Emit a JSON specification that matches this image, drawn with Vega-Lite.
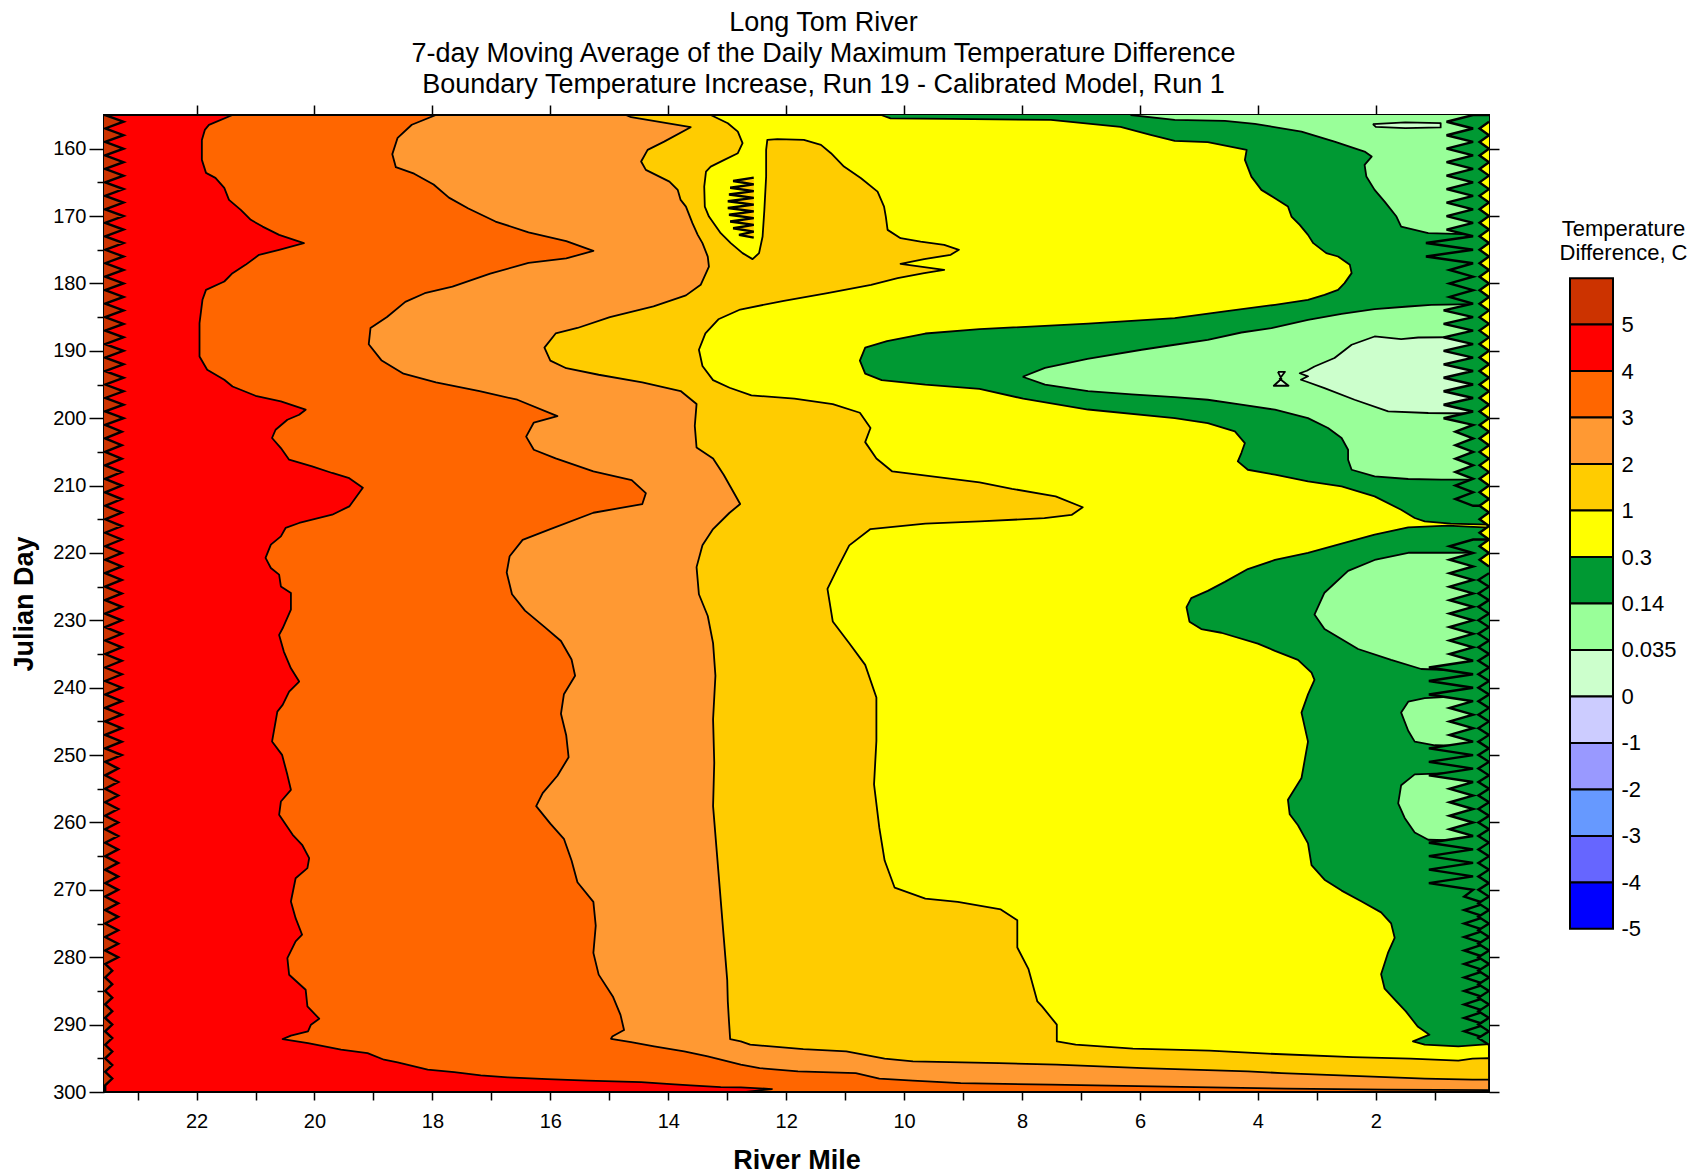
{
"$schema":"https://vega.github.io/schema/vega-lite/v6.json",
"background":"white",
"padding":{"left":9,"top":8,"right":10,"bottom":2},
"config":{"font":"Liberation Sans","axis":{"grid":false,"domain":false,"tickColor":"black","labelColor":"black","titleColor":"black","tickWidth":1.5,"labelFont":"Liberation Sans","titleFont":"Liberation Sans","labelOverlap":false}},
"datasets":{
"shapes":[{"s":"a","b":"1-2"},{"s":"b","b":"2-3"},{"s":"c","b":"3-4"},{"s":"d","b":"4-5"},{"s":"e","b":">5"},{"s":"f","b":"0.14-0.3"},{"s":"g","b":"0.14-0.3"},{"s":"h","b":"0.035-0.14"},{"s":"i","b":"0.035-0.14"},{"s":"j","b":"0.035-0.14"},{"s":"k","b":"0.035-0.14"},{"s":"l","b":"0.035-0.14"},{"s":"m","b":"0-0.035"},{"s":"m0","b":"0-0.035"},{"s":"n","b":"0-0.035"},{"s":"o1","b":"0.14-0.3"},{"s":"o2","b":"0.14-0.3"},{"s":"p","b":"0.3-1"},{"s":"p2","b":"0.14-0.3"},{"s":"q","b":"1-2"}],
"legend":[{"i":0,"j":1,"b":">5"},{"i":1,"j":2,"b":"4-5"},{"i":2,"j":3,"b":"3-4"},{"i":3,"j":4,"b":"2-3"},{"i":4,"j":5,"b":"1-2"},{"i":5,"j":6,"b":"0.3-1"},{"i":6,"j":7,"b":"0.14-0.3"},{"i":7,"j":8,"b":"0.035-0.14"},{"i":8,"j":9,"b":"0-0.035"},{"i":9,"j":10,"b":"-1-0"},{"i":10,"j":11,"b":"-2--1"},{"i":11,"j":12,"b":"-3--2"},{"i":12,"j":13,"b":"-4--3"},{"i":13,"j":14,"b":"-5--4"}],
"pts":[
{"s":"a","mi":23.57,"dy":155},{"s":"a","mi":13.28,"dy":155},{"s":"a","mi":12.99,"dy":156.22},{"s":"a","mi":12.82,"dy":157.46},{"s":"a","mi":12.74,"dy":159.18},{"s":"a","mi":12.82,"dy":160.67},{"s":"a","mi":13.05,"dy":161.66},{"s":"a","mi":13.28,"dy":162.66},{"s":"a","mi":13.36,"dy":163.4},{"s":"a","mi":13.39,"dy":165.62},{"s":"a","mi":13.38,"dy":168.59},{"s":"a","mi":13.31,"dy":170.07},{"s":"a","mi":13.11,"dy":172.54},{"s":"a","mi":12.94,"dy":174.02},{"s":"a","mi":12.74,"dy":175.5},{"s":"a","mi":12.57,"dy":176.39},{"s":"a","mi":12.46,"dy":175.5},{"s":"a","mi":12.4,"dy":173.04},{"s":"a","mi":12.37,"dy":169.08},{"s":"a","mi":12.34,"dy":164.14},{"s":"a","mi":12.34,"dy":160.18},{"s":"a","mi":12.32,"dy":158.7},{"s":"a","mi":12.15,"dy":158.59},{"s":"a","mi":11.7,"dy":158.7},{"s":"a","mi":11.41,"dy":159.44},{"s":"a","mi":11.24,"dy":160.67},{"s":"a","mi":11.02,"dy":162.66},{"s":"a","mi":10.73,"dy":164.38},{"s":"a","mi":10.45,"dy":166.37},{"s":"a","mi":10.34,"dy":168.59},{"s":"a","mi":10.31,"dy":170.07},{"s":"a","mi":10.28,"dy":172.05},{"s":"a","mi":10.06,"dy":173.28},{"s":"a","mi":9.72,"dy":173.78},{"s":"a","mi":9.32,"dy":174.27},{"s":"a","mi":9.07,"dy":175.01},{"s":"a","mi":9.21,"dy":175.75},{"s":"a","mi":9.66,"dy":176.39},{"s":"a","mi":10.06,"dy":177.09},{"s":"a","mi":9.72,"dy":177.49},{"s":"a","mi":9.32,"dy":177.98},{"s":"a","mi":9.66,"dy":178.47},{"s":"a","mi":10.11,"dy":179.21},{"s":"a","mi":10.56,"dy":180.2},{"s":"a","mi":11.3,"dy":181.45},{"s":"a","mi":12.04,"dy":182.58},{"s":"a","mi":12.78,"dy":183.87},{"s":"a","mi":13.15,"dy":185.32},{"s":"a","mi":13.37,"dy":187.42},{"s":"a","mi":13.48,"dy":189.84},{"s":"a","mi":13.42,"dy":192.26},{"s":"a","mi":13.24,"dy":194.35},{"s":"a","mi":12.96,"dy":195.48},{"s":"a","mi":12.59,"dy":196.61},{"s":"a","mi":11.86,"dy":197.1},{"s":"a","mi":11.21,"dy":197.9},{"s":"a","mi":10.75,"dy":199.19},{"s":"a","mi":10.57,"dy":201.45},{"s":"a","mi":10.66,"dy":203.55},{"s":"a","mi":10.47,"dy":205.97},{"s":"a","mi":10.2,"dy":207.9},{"s":"a","mi":9.46,"dy":208.71},{"s":"a","mi":8.72,"dy":209.51},{"s":"a","mi":8.17,"dy":210.48},{"s":"a","mi":7.43,"dy":211.61},{"s":"a","mi":6.97,"dy":213.22},{"s":"a","mi":7.16,"dy":214.35},{"s":"a","mi":7.62,"dy":214.84},{"s":"a","mi":8.72,"dy":215.32},{"s":"a","mi":9.64,"dy":215.65},{"s":"a","mi":10.57,"dy":216.45},{"s":"a","mi":10.93,"dy":218.87},{"s":"a","mi":11.12,"dy":222.1},{"s":"a","mi":11.3,"dy":225.32},{"s":"a","mi":11.21,"dy":230.16},{"s":"a","mi":10.93,"dy":233.39},{"s":"a","mi":10.66,"dy":236.61},{"s":"a","mi":10.47,"dy":241.45},{"s":"a","mi":10.47,"dy":247.9},{"s":"a","mi":10.51,"dy":254.35},{"s":"a","mi":10.42,"dy":260.81},{"s":"a","mi":10.33,"dy":265.65},{"s":"a","mi":10.16,"dy":269.68},{"s":"a","mi":9.64,"dy":271.29},{"s":"a","mi":9.09,"dy":271.78},{"s":"a","mi":8.36,"dy":272.9},{"s":"a","mi":8.08,"dy":274.52},{"s":"a","mi":8.08,"dy":278.55},{"s":"a","mi":7.89,"dy":281.77},{"s":"a","mi":7.74,"dy":286.56},{"s":"a","mi":7.66,"dy":287.3},{"s":"a","mi":7.41,"dy":290.01},{"s":"a","mi":7.41,"dy":292.49},{"s":"a","mi":7.09,"dy":292.98},{"s":"a","mi":6.12,"dy":293.57},{"s":"a","mi":4.82,"dy":293.87},{"s":"a","mi":3.84,"dy":294.31},{"s":"a","mi":2.39,"dy":294.82},{"s":"a","mi":1.41,"dy":295.06},{"s":"a","mi":0.6,"dy":295.35},{"s":"a","mi":0.36,"dy":295.06},{"s":"a","mi":0.08,"dy":294.97},{"s":"a","mi":0.08,"dy":300},{"s":"a","mi":23.57,"dy":300},
{"s":"b","mi":23.57,"dy":155},{"s":"b","mi":14.72,"dy":155},{"s":"b","mi":14.63,"dy":155.33},{"s":"b","mi":13.62,"dy":156.81},{"s":"b","mi":14.07,"dy":158.95},{"s":"b","mi":14.35,"dy":160.18},{"s":"b","mi":14.46,"dy":161.91},{"s":"b","mi":14.38,"dy":163.15},{"s":"b","mi":13.98,"dy":164.88},{"s":"b","mi":13.84,"dy":166.11},{"s":"b","mi":13.79,"dy":167.6},{"s":"b","mi":13.7,"dy":168.59},{"s":"b","mi":13.59,"dy":171.05},{"s":"b","mi":13.5,"dy":172.79},{"s":"b","mi":13.42,"dy":174.02},{"s":"b","mi":13.33,"dy":176.01},{"s":"b","mi":13.31,"dy":177.49},{"s":"b","mi":13.45,"dy":180.2},{"s":"b","mi":13.7,"dy":181.77},{"s":"b","mi":14.25,"dy":183.39},{"s":"b","mi":14.99,"dy":185},{"s":"b","mi":15.54,"dy":186.61},{"s":"b","mi":15.91,"dy":187.42},{"s":"b","mi":16.1,"dy":189.52},{"s":"b","mi":16,"dy":191.45},{"s":"b","mi":15.73,"dy":192.58},{"s":"b","mi":15.18,"dy":193.55},{"s":"b","mi":14.44,"dy":194.68},{"s":"b","mi":13.79,"dy":195.97},{"s":"b","mi":13.52,"dy":197.9},{"s":"b","mi":13.55,"dy":201.13},{"s":"b","mi":13.52,"dy":204.35},{"s":"b","mi":13.24,"dy":205.97},{"s":"b","mi":13.06,"dy":208.39},{"s":"b","mi":12.78,"dy":212.74},{"s":"b","mi":12.96,"dy":214.03},{"s":"b","mi":13.24,"dy":216.45},{"s":"b","mi":13.42,"dy":218.87},{"s":"b","mi":13.52,"dy":222.1},{"s":"b","mi":13.48,"dy":226.13},{"s":"b","mi":13.33,"dy":229.35},{"s":"b","mi":13.24,"dy":233.39},{"s":"b","mi":13.2,"dy":238.23},{"s":"b","mi":13.24,"dy":244.68},{"s":"b","mi":13.22,"dy":251.13},{"s":"b","mi":13.24,"dy":257.58},{"s":"b","mi":13.15,"dy":267.26},{"s":"b","mi":13.06,"dy":276.94},{"s":"b","mi":13,"dy":283.39},{"s":"b","mi":12.99,"dy":286.56},{"s":"b","mi":12.97,"dy":289.52},{"s":"b","mi":12.95,"dy":292.15},{"s":"b","mi":12.77,"dy":292.49},{"s":"b","mi":12.61,"dy":292.98},{"s":"b","mi":11.71,"dy":293.63},{"s":"b","mi":10.98,"dy":293.97},{"s":"b","mi":10.33,"dy":295.06},{"s":"b","mi":9.85,"dy":295.46},{"s":"b","mi":8.39,"dy":295.71},{"s":"b","mi":7.41,"dy":295.94},{"s":"b","mi":5.95,"dy":296.45},{"s":"b","mi":4.17,"dy":296.94},{"s":"b","mi":3.6,"dy":297.19},{"s":"b","mi":1.17,"dy":298.02},{"s":"b","mi":0.36,"dy":298.17},{"s":"b","mi":0.08,"dy":298.17},{"s":"b","mi":0.08,"dy":300},{"s":"b","mi":23.57,"dy":300},
{"s":"c","mi":23.57,"dy":155},{"s":"c","mi":17.94,"dy":155},{"s":"c","mi":18.35,"dy":156.45},{"s":"c","mi":18.59,"dy":158.39},{"s":"c","mi":18.68,"dy":160.81},{"s":"c","mi":18.62,"dy":162.74},{"s":"c","mi":18.31,"dy":163.71},{"s":"c","mi":17.98,"dy":165.32},{"s":"c","mi":17.72,"dy":167.26},{"s":"c","mi":17.39,"dy":168.87},{"s":"c","mi":16.93,"dy":170.81},{"s":"c","mi":16.37,"dy":172.42},{"s":"c","mi":15.73,"dy":173.71},{"s":"c","mi":15.27,"dy":175.16},{"s":"c","mi":15.73,"dy":176.29},{"s":"c","mi":16.37,"dy":176.94},{"s":"c","mi":17.02,"dy":178.55},{"s":"c","mi":17.66,"dy":180.48},{"s":"c","mi":18.13,"dy":181.45},{"s":"c","mi":18.46,"dy":182.74},{"s":"c","mi":18.77,"dy":184.98},{"s":"c","mi":19.05,"dy":186.61},{"s":"c","mi":19.08,"dy":189.03},{"s":"c","mi":18.86,"dy":191.45},{"s":"c","mi":18.49,"dy":193.39},{"s":"c","mi":17.94,"dy":194.68},{"s":"c","mi":17.2,"dy":195.97},{"s":"c","mi":16.56,"dy":197.26},{"s":"c","mi":15.88,"dy":199.68},{"s":"c","mi":16.28,"dy":200.64},{"s":"c","mi":16.41,"dy":202.74},{"s":"c","mi":16.28,"dy":204.68},{"s":"c","mi":15.91,"dy":205.97},{"s":"c","mi":15.27,"dy":207.9},{"s":"c","mi":14.62,"dy":209.19},{"s":"c","mi":14.38,"dy":211.13},{"s":"c","mi":14.44,"dy":212.74},{"s":"c","mi":15.27,"dy":214.03},{"s":"c","mi":16,"dy":216.45},{"s":"c","mi":16.47,"dy":218.06},{"s":"c","mi":16.69,"dy":220.48},{"s":"c","mi":16.74,"dy":222.9},{"s":"c","mi":16.65,"dy":226.13},{"s":"c","mi":16.43,"dy":228.55},{"s":"c","mi":16.1,"dy":230.97},{"s":"c","mi":15.82,"dy":233.06},{"s":"c","mi":15.64,"dy":235.81},{"s":"c","mi":15.58,"dy":238.23},{"s":"c","mi":15.77,"dy":240.97},{"s":"c","mi":15.82,"dy":243.87},{"s":"c","mi":15.73,"dy":247.1},{"s":"c","mi":15.69,"dy":250.32},{"s":"c","mi":15.88,"dy":253.06},{"s":"c","mi":16.13,"dy":255.65},{"s":"c","mi":16.24,"dy":257.58},{"s":"c","mi":16,"dy":260.16},{"s":"c","mi":15.77,"dy":262.42},{"s":"c","mi":15.64,"dy":265.65},{"s":"c","mi":15.54,"dy":268.87},{"s":"c","mi":15.27,"dy":271.78},{"s":"c","mi":15.23,"dy":275.32},{"s":"c","mi":15.27,"dy":279.35},{"s":"c","mi":15.18,"dy":282.58},{"s":"c","mi":14.94,"dy":285.81},{"s":"c","mi":14.81,"dy":288.55},{"s":"c","mi":14.75,"dy":290.81},{"s":"c","mi":14.95,"dy":291.77},{"s":"c","mi":14.97,"dy":292.1},{"s":"c","mi":14.63,"dy":292.59},{"s":"c","mi":14.24,"dy":293.23},{"s":"c","mi":13.73,"dy":293.97},{"s":"c","mi":13.33,"dy":294.71},{"s":"c","mi":12.99,"dy":295.46},{"s":"c","mi":12.77,"dy":295.94},{"s":"c","mi":12.45,"dy":296.45},{"s":"c","mi":11.8,"dy":296.94},{"s":"c","mi":10.82,"dy":297.19},{"s":"c","mi":10.42,"dy":298.02},{"s":"c","mi":9.85,"dy":298.32},{"s":"c","mi":9.04,"dy":298.68},{"s":"c","mi":7.5,"dy":298.91},{"s":"c","mi":5.06,"dy":299.27},{"s":"c","mi":3.52,"dy":299.5},{"s":"c","mi":1.82,"dy":299.65},{"s":"c","mi":0.08,"dy":299.73},{"s":"c","mi":0.08,"dy":300},{"s":"c","mi":23.57,"dy":300},
{"s":"d","mi":23.57,"dy":155},{"s":"d","mi":21.39,"dy":155},{"s":"d","mi":21.79,"dy":156.47},{"s":"d","mi":21.86,"dy":157.21},{"s":"d","mi":21.91,"dy":158.7},{"s":"d","mi":21.91,"dy":161.66},{"s":"d","mi":21.84,"dy":163.59},{"s":"d","mi":21.68,"dy":164.33},{"s":"d","mi":21.53,"dy":165.82},{"s":"d","mi":21.45,"dy":167.6},{"s":"d","mi":21.25,"dy":169.08},{"s":"d","mi":21.08,"dy":170.56},{"s":"d","mi":20.88,"dy":171.56},{"s":"d","mi":20.6,"dy":172.79},{"s":"d","mi":20.18,"dy":174.02},{"s":"d","mi":20.6,"dy":175.01},{"s":"d","mi":20.94,"dy":175.75},{"s":"d","mi":21.17,"dy":177.24},{"s":"d","mi":21.39,"dy":178.47},{"s":"d","mi":21.53,"dy":179.71},{"s":"d","mi":21.84,"dy":180.95},{"s":"d","mi":21.9,"dy":182.43},{"s":"d","mi":21.95,"dy":185.88},{"s":"d","mi":21.95,"dy":190.84},{"s":"d","mi":21.82,"dy":192.81},{"s":"d","mi":21.53,"dy":194.3},{"s":"d","mi":21.39,"dy":195.29},{"s":"d","mi":21,"dy":196.67},{"s":"d","mi":20.57,"dy":197.51},{"s":"d","mi":20.15,"dy":198.74},{"s":"d","mi":20.26,"dy":199.49},{"s":"d","mi":20.46,"dy":200.23},{"s":"d","mi":20.66,"dy":201.71},{"s":"d","mi":20.72,"dy":202.94},{"s":"d","mi":20.57,"dy":204.43},{"s":"d","mi":20.43,"dy":206.16},{"s":"d","mi":20.04,"dy":207.15},{"s":"d","mi":19.7,"dy":208.13},{"s":"d","mi":19.41,"dy":208.9},{"s":"d","mi":19.18,"dy":210.32},{"s":"d","mi":19.41,"dy":213.09},{"s":"d","mi":19.7,"dy":214.32},{"s":"d","mi":20.26,"dy":215.55},{"s":"d","mi":20.49,"dy":216.29},{"s":"d","mi":20.57,"dy":217.54},{"s":"d","mi":20.74,"dy":218.77},{"s":"d","mi":20.83,"dy":220.74},{"s":"d","mi":20.74,"dy":222.23},{"s":"d","mi":20.6,"dy":223.22},{"s":"d","mi":20.57,"dy":224.96},{"s":"d","mi":20.4,"dy":225.93},{"s":"d","mi":20.4,"dy":228.41},{"s":"d","mi":20.54,"dy":231.18},{"s":"d","mi":20.6,"dy":232.16},{"s":"d","mi":20.52,"dy":234.64},{"s":"d","mi":20.4,"dy":237.12},{"s":"d","mi":20.26,"dy":239.09},{"s":"d","mi":20.43,"dy":240.57},{"s":"d","mi":20.54,"dy":242.55},{"s":"d","mi":20.63,"dy":243.54},{"s":"d","mi":20.72,"dy":247.99},{"s":"d","mi":20.55,"dy":249.96},{"s":"d","mi":20.46,"dy":252.93},{"s":"d","mi":20.4,"dy":255.15},{"s":"d","mi":20.57,"dy":256.89},{"s":"d","mi":20.6,"dy":258.86},{"s":"d","mi":20.37,"dy":261.83},{"s":"d","mi":20.21,"dy":263.31},{"s":"d","mi":20.09,"dy":265.3},{"s":"d","mi":20.12,"dy":266.78},{"s":"d","mi":20.32,"dy":268.27},{"s":"d","mi":20.4,"dy":271.72},{"s":"d","mi":20.32,"dy":274.2},{"s":"d","mi":20.21,"dy":276.66},{"s":"d","mi":20.32,"dy":277.66},{"s":"d","mi":20.46,"dy":280.13},{"s":"d","mi":20.43,"dy":282.6},{"s":"d","mi":20.15,"dy":284.82},{"s":"d","mi":20.12,"dy":287.3},{"s":"d","mi":19.92,"dy":289.12},{"s":"d","mi":20.06,"dy":290.01},{"s":"d","mi":20.11,"dy":291.01},{"s":"d","mi":20.4,"dy":291.64},{"s":"d","mi":20.54,"dy":292.15},{"s":"d","mi":20.11,"dy":292.74},{"s":"d","mi":19.55,"dy":293.72},{"s":"d","mi":19.1,"dy":294.23},{"s":"d","mi":18.82,"dy":295.21},{"s":"d","mi":18.59,"dy":295.61},{"s":"d","mi":18.08,"dy":296.69},{"s":"d","mi":17.63,"dy":297.04},{"s":"d","mi":17.18,"dy":297.53},{"s":"d","mi":16.72,"dy":297.83},{"s":"d","mi":16.05,"dy":298.08},{"s":"d","mi":15.37,"dy":298.32},{"s":"d","mi":14.46,"dy":298.53},{"s":"d","mi":13.96,"dy":298.82},{"s":"d","mi":13.62,"dy":299.02},{"s":"d","mi":13.11,"dy":299.27},{"s":"d","mi":12.77,"dy":299.31},{"s":"d","mi":12.24,"dy":299.56},{"s":"d","mi":12.68,"dy":300},{"s":"d","mi":23.57,"dy":300},
{"s":"e","mi":23.57,"dy":155},{"s":"e","mi":23.55,"dy":155},{"s":"e","mi":23.24,"dy":156},{"s":"e","mi":23.55,"dy":157},{"s":"e","mi":23.24,"dy":158},{"s":"e","mi":23.55,"dy":159},{"s":"e","mi":23.24,"dy":160},{"s":"e","mi":23.55,"dy":161},{"s":"e","mi":23.24,"dy":162},{"s":"e","mi":23.55,"dy":163},{"s":"e","mi":23.24,"dy":164},{"s":"e","mi":23.55,"dy":165},{"s":"e","mi":23.24,"dy":166},{"s":"e","mi":23.55,"dy":167},{"s":"e","mi":23.24,"dy":168},{"s":"e","mi":23.55,"dy":169},{"s":"e","mi":23.24,"dy":170},{"s":"e","mi":23.55,"dy":171},{"s":"e","mi":23.24,"dy":172},{"s":"e","mi":23.55,"dy":173},{"s":"e","mi":23.24,"dy":174},{"s":"e","mi":23.55,"dy":175},{"s":"e","mi":23.24,"dy":176},{"s":"e","mi":23.55,"dy":177},{"s":"e","mi":23.24,"dy":178},{"s":"e","mi":23.55,"dy":179},{"s":"e","mi":23.24,"dy":180},{"s":"e","mi":23.55,"dy":181},{"s":"e","mi":23.24,"dy":182},{"s":"e","mi":23.55,"dy":183},{"s":"e","mi":23.24,"dy":184},{"s":"e","mi":23.55,"dy":185},{"s":"e","mi":23.24,"dy":186},{"s":"e","mi":23.55,"dy":187},{"s":"e","mi":23.24,"dy":188},{"s":"e","mi":23.55,"dy":189},{"s":"e","mi":23.24,"dy":190},{"s":"e","mi":23.55,"dy":191},{"s":"e","mi":23.24,"dy":192},{"s":"e","mi":23.55,"dy":193},{"s":"e","mi":23.24,"dy":194},{"s":"e","mi":23.55,"dy":195},{"s":"e","mi":23.24,"dy":196},{"s":"e","mi":23.55,"dy":197},{"s":"e","mi":23.24,"dy":198},{"s":"e","mi":23.55,"dy":199},{"s":"e","mi":23.24,"dy":200},{"s":"e","mi":23.55,"dy":201},{"s":"e","mi":23.27,"dy":202},{"s":"e","mi":23.55,"dy":203},{"s":"e","mi":23.27,"dy":204},{"s":"e","mi":23.55,"dy":205},{"s":"e","mi":23.27,"dy":206},{"s":"e","mi":23.55,"dy":207},{"s":"e","mi":23.27,"dy":208},{"s":"e","mi":23.55,"dy":209},{"s":"e","mi":23.27,"dy":210},{"s":"e","mi":23.55,"dy":211},{"s":"e","mi":23.27,"dy":212},{"s":"e","mi":23.55,"dy":213},{"s":"e","mi":23.27,"dy":214},{"s":"e","mi":23.55,"dy":215},{"s":"e","mi":23.27,"dy":216},{"s":"e","mi":23.55,"dy":217},{"s":"e","mi":23.27,"dy":218},{"s":"e","mi":23.55,"dy":219},{"s":"e","mi":23.27,"dy":220},{"s":"e","mi":23.55,"dy":221},{"s":"e","mi":23.27,"dy":222},{"s":"e","mi":23.55,"dy":223},{"s":"e","mi":23.27,"dy":224},{"s":"e","mi":23.55,"dy":225},{"s":"e","mi":23.27,"dy":226},{"s":"e","mi":23.55,"dy":227},{"s":"e","mi":23.27,"dy":228},{"s":"e","mi":23.55,"dy":229},{"s":"e","mi":23.27,"dy":230},{"s":"e","mi":23.55,"dy":231},{"s":"e","mi":23.27,"dy":232},{"s":"e","mi":23.55,"dy":233},{"s":"e","mi":23.27,"dy":234},{"s":"e","mi":23.55,"dy":235},{"s":"e","mi":23.27,"dy":236},{"s":"e","mi":23.55,"dy":237},{"s":"e","mi":23.27,"dy":238},{"s":"e","mi":23.55,"dy":239},{"s":"e","mi":23.27,"dy":240},{"s":"e","mi":23.55,"dy":241},{"s":"e","mi":23.27,"dy":242},{"s":"e","mi":23.55,"dy":243},{"s":"e","mi":23.27,"dy":244},{"s":"e","mi":23.55,"dy":245},{"s":"e","mi":23.27,"dy":246},{"s":"e","mi":23.55,"dy":247},{"s":"e","mi":23.27,"dy":248},{"s":"e","mi":23.55,"dy":249},{"s":"e","mi":23.27,"dy":250},{"s":"e","mi":23.55,"dy":251},{"s":"e","mi":23.33,"dy":252},{"s":"e","mi":23.55,"dy":253},{"s":"e","mi":23.33,"dy":254},{"s":"e","mi":23.55,"dy":255},{"s":"e","mi":23.33,"dy":256},{"s":"e","mi":23.55,"dy":257},{"s":"e","mi":23.33,"dy":258},{"s":"e","mi":23.55,"dy":259},{"s":"e","mi":23.33,"dy":260},{"s":"e","mi":23.55,"dy":261},{"s":"e","mi":23.33,"dy":262},{"s":"e","mi":23.55,"dy":263},{"s":"e","mi":23.33,"dy":264},{"s":"e","mi":23.55,"dy":265},{"s":"e","mi":23.33,"dy":266},{"s":"e","mi":23.55,"dy":267},{"s":"e","mi":23.33,"dy":268},{"s":"e","mi":23.55,"dy":269},{"s":"e","mi":23.33,"dy":270},{"s":"e","mi":23.55,"dy":271},{"s":"e","mi":23.33,"dy":272},{"s":"e","mi":23.55,"dy":273},{"s":"e","mi":23.33,"dy":274},{"s":"e","mi":23.55,"dy":275},{"s":"e","mi":23.33,"dy":276},{"s":"e","mi":23.55,"dy":277},{"s":"e","mi":23.33,"dy":278},{"s":"e","mi":23.55,"dy":279},{"s":"e","mi":23.33,"dy":280},{"s":"e","mi":23.55,"dy":281},{"s":"e","mi":23.43,"dy":282},{"s":"e","mi":23.55,"dy":283},{"s":"e","mi":23.43,"dy":284},{"s":"e","mi":23.55,"dy":285},{"s":"e","mi":23.43,"dy":286},{"s":"e","mi":23.55,"dy":287},{"s":"e","mi":23.43,"dy":288},{"s":"e","mi":23.55,"dy":289},{"s":"e","mi":23.43,"dy":290},{"s":"e","mi":23.55,"dy":291},{"s":"e","mi":23.43,"dy":292},{"s":"e","mi":23.55,"dy":293},{"s":"e","mi":23.43,"dy":294},{"s":"e","mi":23.55,"dy":295},{"s":"e","mi":23.43,"dy":296},{"s":"e","mi":23.55,"dy":297},{"s":"e","mi":23.43,"dy":298},{"s":"e","mi":23.55,"dy":299},{"s":"e","mi":23.55,"dy":300},{"s":"e","mi":23.57,"dy":300},
{"s":"f","mi":10.39,"dy":155},{"s":"f","mi":10.23,"dy":155.51},{"s":"f","mi":9.21,"dy":155.58},{"s":"f","mi":7.51,"dy":155.73},{"s":"f","mi":6.33,"dy":156.77},{"s":"f","mi":5.82,"dy":157.95},{"s":"f","mi":5.41,"dy":158.84},{"s":"f","mi":4.85,"dy":159.04},{"s":"f","mi":4.19,"dy":160.18},{"s":"f","mi":4.22,"dy":161.66},{"s":"f","mi":4.11,"dy":164.14},{"s":"f","mi":3.94,"dy":166.11},{"s":"f","mi":3.71,"dy":167.34},{"s":"f","mi":3.49,"dy":168.59},{"s":"f","mi":3.43,"dy":170.07},{"s":"f","mi":3.29,"dy":171.3},{"s":"f","mi":3.15,"dy":172.79},{"s":"f","mi":3.06,"dy":174.02},{"s":"f","mi":2.84,"dy":175.5},{"s":"f","mi":2.64,"dy":176},{"s":"f","mi":2.44,"dy":177.24},{"s":"f","mi":2.41,"dy":178.47},{"s":"f","mi":2.53,"dy":179.95},{"s":"f","mi":2.64,"dy":180.95},{"s":"f","mi":2.87,"dy":181.69},{"s":"f","mi":3.15,"dy":182.43},{"s":"f","mi":3.71,"dy":183.17},{"s":"f","mi":4.56,"dy":184.16},{"s":"f","mi":5.41,"dy":185.14},{"s":"f","mi":6.88,"dy":185.97},{"s":"f","mi":8.72,"dy":186.78},{"s":"f","mi":9.64,"dy":187.43},{"s":"f","mi":10.29,"dy":188.55},{"s":"f","mi":10.66,"dy":189.52},{"s":"f","mi":10.75,"dy":191.45},{"s":"f","mi":10.66,"dy":193.39},{"s":"f","mi":10.38,"dy":194.35},{"s":"f","mi":9.64,"dy":195.01},{"s":"f","mi":8.72,"dy":195.64},{"s":"f","mi":7.98,"dy":197.1},{"s":"f","mi":6.88,"dy":198.71},{"s":"f","mi":5.41,"dy":199.98},{"s":"f","mi":4.85,"dy":200.72},{"s":"f","mi":4.39,"dy":201.96},{"s":"f","mi":4.22,"dy":203.69},{"s":"f","mi":4.28,"dy":205.17},{"s":"f","mi":4.34,"dy":206.41},{"s":"f","mi":4.17,"dy":207.65},{"s":"f","mi":3.71,"dy":208.39},{"s":"f","mi":3.15,"dy":209.38},{"s":"f","mi":2.58,"dy":210.12},{"s":"f","mi":2.02,"dy":211.6},{"s":"f","mi":1.57,"dy":213.58},{"s":"f","mi":1.34,"dy":214.81},{"s":"f","mi":1.17,"dy":215.31},{"s":"f","mi":0.73,"dy":215.65},{"s":"f","mi":0.08,"dy":215.8},{"s":"f","mi":0.08,"dy":155},
{"s":"g","mi":0.08,"dy":216.25},{"s":"g","mi":0.78,"dy":215.95},{"s":"g","mi":1.45,"dy":216.19},{"s":"g","mi":2.02,"dy":217.27},{"s":"g","mi":2.58,"dy":218.62},{"s":"g","mi":3.15,"dy":219.97},{"s":"g","mi":3.71,"dy":221.04},{"s":"g","mi":4.17,"dy":222.39},{"s":"g","mi":4.56,"dy":224.29},{"s":"g","mi":4.85,"dy":225.62},{"s":"g","mi":5.13,"dy":226.7},{"s":"g","mi":5.21,"dy":228.05},{"s":"g","mi":5.16,"dy":230.2},{"s":"g","mi":4.96,"dy":231.29},{"s":"g","mi":4.62,"dy":231.84},{"s":"g","mi":4,"dy":233.45},{"s":"g","mi":3.71,"dy":234.52},{"s":"g","mi":3.32,"dy":235.87},{"s":"g","mi":3.09,"dy":237.75},{"s":"g","mi":3.04,"dy":238.84},{"s":"g","mi":3.15,"dy":240.99},{"s":"g","mi":3.26,"dy":243.69},{"s":"g","mi":3.15,"dy":248},{"s":"g","mi":3.26,"dy":253.4},{"s":"g","mi":3.49,"dy":256.64},{"s":"g","mi":3.46,"dy":258.79},{"s":"g","mi":3.32,"dy":260.41},{"s":"g","mi":3.15,"dy":263.1},{"s":"g","mi":3.09,"dy":266.34},{"s":"g","mi":2.87,"dy":268.49},{"s":"g","mi":2.58,"dy":270.11},{"s":"g","mi":2.24,"dy":271.72},{"s":"g","mi":1.91,"dy":273.34},{"s":"g","mi":1.74,"dy":274.97},{"s":"g","mi":1.68,"dy":277.12},{"s":"g","mi":1.79,"dy":279.27},{"s":"g","mi":1.91,"dy":282.51},{"s":"g","mi":1.85,"dy":284.67},{"s":"g","mi":1.65,"dy":286.56},{"s":"g","mi":1.49,"dy":288.04},{"s":"g","mi":1.29,"dy":290.27},{"s":"g","mi":1.09,"dy":291.49},{"s":"g","mi":1.37,"dy":292.49},{"s":"g","mi":1.17,"dy":292.98},{"s":"g","mi":0.6,"dy":293.23},{"s":"g","mi":0.08,"dy":292.89},
{"s":"h","mi":6.16,"dy":155},{"s":"h","mi":5.41,"dy":155.73},{"s":"h","mi":4.56,"dy":155.88},{"s":"h","mi":4.05,"dy":156.32},{"s":"h","mi":3.26,"dy":157.46},{"s":"h","mi":2.7,"dy":158.95},{"s":"h","mi":2.19,"dy":160.43},{"s":"h","mi":2.07,"dy":161.17},{"s":"h","mi":2.19,"dy":162.4},{"s":"h","mi":2.16,"dy":164.14},{"s":"h","mi":2.02,"dy":166.11},{"s":"h","mi":1.85,"dy":167.85},{"s":"h","mi":1.65,"dy":170.07},{"s":"h","mi":1.57,"dy":171.56},{"s":"h","mi":1.11,"dy":172.53},{"s":"h","mi":0.08,"dy":172.79},{"s":"h","mi":0.08,"dy":155},
{"s":"i","mi":7.99,"dy":193.85},{"s":"i","mi":7.61,"dy":192.52},{"s":"i","mi":6.89,"dy":191.18},{"s":"i","mi":5.97,"dy":189.84},{"s":"i","mi":5.41,"dy":189.1},{"s":"i","mi":4.85,"dy":188.36},{"s":"i","mi":4.28,"dy":187.28},{"s":"i","mi":3.77,"dy":186.63},{"s":"i","mi":3.15,"dy":185.4},{"s":"i","mi":2.58,"dy":184.5},{"s":"i","mi":2.02,"dy":183.81},{"s":"i","mi":1.45,"dy":183.42},{"s":"i","mi":1.06,"dy":183.17},{"s":"i","mi":0.08,"dy":183.02},{"s":"i","mi":0.08,"dy":209.13},{"s":"i","mi":0.89,"dy":209.13},{"s":"i","mi":1.45,"dy":209.02},{"s":"i","mi":2.02,"dy":208.64},{"s":"i","mi":2.41,"dy":207.65},{"s":"i","mi":2.47,"dy":206.16},{"s":"i","mi":2.47,"dy":204.68},{"s":"i","mi":2.58,"dy":202.94},{"s":"i","mi":2.81,"dy":201.46},{"s":"i","mi":3.15,"dy":199.98},{"s":"i","mi":3.71,"dy":198.74},{"s":"i","mi":4.28,"dy":198},{"s":"i","mi":4.85,"dy":197.26},{"s":"i","mi":5.41,"dy":196.86},{"s":"i","mi":6.14,"dy":196.46},{"s":"i","mi":6.88,"dy":195.97},{"s":"i","mi":7.61,"dy":195.01},{"s":"i","mi":7.99,"dy":193.85},
{"s":"j","mi":0.08,"dy":219.96},{"s":"j","mi":0.78,"dy":219.97},{"s":"j","mi":1.45,"dy":219.97},{"s":"j","mi":2.02,"dy":221.04},{"s":"j","mi":2.47,"dy":222.67},{"s":"j","mi":2.87,"dy":225.9},{"s":"j","mi":3.04,"dy":229.14},{"s":"j","mi":2.87,"dy":231.29},{"s":"j","mi":2.3,"dy":234.25},{"s":"j","mi":1.74,"dy":235.87},{"s":"j","mi":1.23,"dy":237.22},{"s":"j","mi":0.08,"dy":237.61},
{"s":"k","mi":0.08,"dy":241.02},{"s":"k","mi":1.17,"dy":241.54},{"s":"k","mi":1.45,"dy":242.07},{"s":"k","mi":1.57,"dy":243.69},{"s":"k","mi":1.45,"dy":246.39},{"s":"k","mi":1.34,"dy":248},{"s":"k","mi":1,"dy":248.54},{"s":"k","mi":0.08,"dy":248.73},
{"s":"l","mi":0.08,"dy":252.44},{"s":"l","mi":1.34,"dy":252.86},{"s":"l","mi":1.57,"dy":254.47},{"s":"l","mi":1.62,"dy":257.17},{"s":"l","mi":1.51,"dy":259.32},{"s":"l","mi":1.34,"dy":261.49},{"s":"l","mi":1.11,"dy":262.56},{"s":"l","mi":0.08,"dy":262.82},
{"s":"m","mi":3.04,"dy":192.32},{"s":"m","mi":2.7,"dy":191.07},{"s":"m","mi":2.41,"dy":189.1},{"s":"m","mi":2.02,"dy":187.87},{"s":"m","mi":1.57,"dy":188.26},{"s":"m","mi":1.28,"dy":188.02},{"s":"m","mi":0.08,"dy":187.92},{"s":"m","mi":0.08,"dy":199.34},{"s":"m","mi":1.11,"dy":199.23},{"s":"m","mi":1.79,"dy":199},{"s":"m","mi":2.36,"dy":197.26},{"s":"m","mi":2.87,"dy":195.53},{"s":"m","mi":3.17,"dy":194.59},{"s":"m","mi":3.27,"dy":194.29},{"s":"m","mi":3.15,"dy":193.78},{"s":"m","mi":3.29,"dy":193.33},{"s":"m","mi":3.17,"dy":192.96},{"s":"m","mi":3.04,"dy":192.32},
{"s":"m0","mi":2.05,"dy":156.35},{"s":"m0","mi":1.5,"dy":156.1},{"s":"m0","mi":0.9,"dy":156.2},{"s":"m0","mi":0.9,"dy":156.85},{"s":"m0","mi":1.5,"dy":156.95},{"s":"m0","mi":2,"dy":156.75},{"s":"m0","mi":2.05,"dy":156.35},
{"s":"n","mi":3.66,"dy":193.11},{"s":"n","mi":3.54,"dy":193.11},{"s":"n","mi":3.63,"dy":194.15},{"s":"n","mi":3.48,"dy":195.18},{"s":"n","mi":3.73,"dy":195.18},{"s":"n","mi":3.6,"dy":194.15},{"s":"n","mi":3.66,"dy":193.11},
{"s":"o1","mi":0.08,"dy":155},{"s":"o1","mi":0.35,"dy":155},{"s":"o1","mi":0.8,"dy":156},{"s":"o1","mi":0.35,"dy":157},{"s":"o1","mi":0.8,"dy":158},{"s":"o1","mi":0.35,"dy":159},{"s":"o1","mi":0.8,"dy":160},{"s":"o1","mi":0.35,"dy":161},{"s":"o1","mi":0.8,"dy":162},{"s":"o1","mi":0.35,"dy":163},{"s":"o1","mi":0.8,"dy":164},{"s":"o1","mi":0.35,"dy":165},{"s":"o1","mi":0.8,"dy":166},{"s":"o1","mi":0.35,"dy":167},{"s":"o1","mi":0.8,"dy":168},{"s":"o1","mi":0.35,"dy":169},{"s":"o1","mi":0.8,"dy":170},{"s":"o1","mi":0.35,"dy":171},{"s":"o1","mi":0.8,"dy":172},{"s":"o1","mi":0.35,"dy":173},{"s":"o1","mi":1.15,"dy":174},{"s":"o1","mi":0.35,"dy":175},{"s":"o1","mi":1.15,"dy":176},{"s":"o1","mi":0.35,"dy":177},{"s":"o1","mi":0.75,"dy":178},{"s":"o1","mi":0.35,"dy":179},{"s":"o1","mi":0.75,"dy":180},{"s":"o1","mi":0.35,"dy":181},{"s":"o1","mi":0.75,"dy":182},{"s":"o1","mi":0.35,"dy":183},{"s":"o1","mi":0.85,"dy":184},{"s":"o1","mi":0.35,"dy":185},{"s":"o1","mi":0.85,"dy":186},{"s":"o1","mi":0.35,"dy":187},{"s":"o1","mi":0.85,"dy":188},{"s":"o1","mi":0.35,"dy":189},{"s":"o1","mi":0.85,"dy":190},{"s":"o1","mi":0.35,"dy":191},{"s":"o1","mi":0.85,"dy":192},{"s":"o1","mi":0.35,"dy":193},{"s":"o1","mi":0.85,"dy":194},{"s":"o1","mi":0.35,"dy":195},{"s":"o1","mi":0.85,"dy":196},{"s":"o1","mi":0.35,"dy":197},{"s":"o1","mi":0.85,"dy":198},{"s":"o1","mi":0.35,"dy":199},{"s":"o1","mi":0.85,"dy":200},{"s":"o1","mi":0.35,"dy":201},{"s":"o1","mi":0.65,"dy":202},{"s":"o1","mi":0.35,"dy":203},{"s":"o1","mi":0.65,"dy":204},{"s":"o1","mi":0.35,"dy":205},{"s":"o1","mi":0.65,"dy":206},{"s":"o1","mi":0.35,"dy":207},{"s":"o1","mi":0.65,"dy":208},{"s":"o1","mi":0.35,"dy":209},{"s":"o1","mi":0.65,"dy":210},{"s":"o1","mi":0.35,"dy":211},{"s":"o1","mi":0.65,"dy":212},{"s":"o1","mi":0.35,"dy":213},{"s":"o1","mi":0.08,"dy":213},
{"s":"o2","mi":0.08,"dy":218},{"s":"o2","mi":0.35,"dy":218},{"s":"o2","mi":0.75,"dy":219},{"s":"o2","mi":0.35,"dy":220},{"s":"o2","mi":0.75,"dy":221},{"s":"o2","mi":0.35,"dy":222},{"s":"o2","mi":0.75,"dy":223},{"s":"o2","mi":0.35,"dy":224},{"s":"o2","mi":0.75,"dy":225},{"s":"o2","mi":0.35,"dy":226},{"s":"o2","mi":0.75,"dy":227},{"s":"o2","mi":0.35,"dy":228},{"s":"o2","mi":0.75,"dy":229},{"s":"o2","mi":0.35,"dy":230},{"s":"o2","mi":0.75,"dy":231},{"s":"o2","mi":0.35,"dy":232},{"s":"o2","mi":0.75,"dy":233},{"s":"o2","mi":0.35,"dy":234},{"s":"o2","mi":0.75,"dy":235},{"s":"o2","mi":0.35,"dy":236},{"s":"o2","mi":1.1,"dy":237},{"s":"o2","mi":0.35,"dy":238},{"s":"o2","mi":1.1,"dy":239},{"s":"o2","mi":0.35,"dy":240},{"s":"o2","mi":1.1,"dy":241},{"s":"o2","mi":0.35,"dy":242},{"s":"o2","mi":0.75,"dy":243},{"s":"o2","mi":0.35,"dy":244},{"s":"o2","mi":0.75,"dy":245},{"s":"o2","mi":0.35,"dy":246},{"s":"o2","mi":0.75,"dy":247},{"s":"o2","mi":0.35,"dy":248},{"s":"o2","mi":1.1,"dy":249},{"s":"o2","mi":0.35,"dy":250},{"s":"o2","mi":1.1,"dy":251},{"s":"o2","mi":0.35,"dy":252},{"s":"o2","mi":1.1,"dy":253},{"s":"o2","mi":0.35,"dy":254},{"s":"o2","mi":0.75,"dy":255},{"s":"o2","mi":0.35,"dy":256},{"s":"o2","mi":0.75,"dy":257},{"s":"o2","mi":0.35,"dy":258},{"s":"o2","mi":0.75,"dy":259},{"s":"o2","mi":0.35,"dy":260},{"s":"o2","mi":0.75,"dy":261},{"s":"o2","mi":0.35,"dy":262},{"s":"o2","mi":1.1,"dy":263},{"s":"o2","mi":0.35,"dy":264},{"s":"o2","mi":1.1,"dy":265},{"s":"o2","mi":0.35,"dy":266},{"s":"o2","mi":1.1,"dy":267},{"s":"o2","mi":0.35,"dy":268},{"s":"o2","mi":1.1,"dy":269},{"s":"o2","mi":0.35,"dy":270},{"s":"o2","mi":0.5,"dy":271},{"s":"o2","mi":0.15,"dy":272},{"s":"o2","mi":0.5,"dy":273},{"s":"o2","mi":0.15,"dy":274},{"s":"o2","mi":0.5,"dy":275},{"s":"o2","mi":0.15,"dy":276},{"s":"o2","mi":0.5,"dy":277},{"s":"o2","mi":0.15,"dy":278},{"s":"o2","mi":0.5,"dy":279},{"s":"o2","mi":0.15,"dy":280},{"s":"o2","mi":0.5,"dy":281},{"s":"o2","mi":0.15,"dy":282},{"s":"o2","mi":0.5,"dy":283},{"s":"o2","mi":0.15,"dy":284},{"s":"o2","mi":0.5,"dy":285},{"s":"o2","mi":0.15,"dy":286},{"s":"o2","mi":0.5,"dy":287},{"s":"o2","mi":0.15,"dy":288},{"s":"o2","mi":0.5,"dy":289},{"s":"o2","mi":0.15,"dy":290},{"s":"o2","mi":0.5,"dy":291},{"s":"o2","mi":0.15,"dy":292},{"s":"o2","mi":0.08,"dy":292},
{"s":"p","mi":0.08,"dy":156},{"s":"p","mi":0.24,"dy":157},{"s":"p","mi":0.08,"dy":158},{"s":"p","mi":0.24,"dy":159},{"s":"p","mi":0.08,"dy":160},{"s":"p","mi":0.24,"dy":161},{"s":"p","mi":0.08,"dy":162},{"s":"p","mi":0.24,"dy":163},{"s":"p","mi":0.08,"dy":164},{"s":"p","mi":0.24,"dy":165},{"s":"p","mi":0.08,"dy":166},{"s":"p","mi":0.24,"dy":167},{"s":"p","mi":0.08,"dy":168},{"s":"p","mi":0.24,"dy":169},{"s":"p","mi":0.08,"dy":170},{"s":"p","mi":0.24,"dy":171},{"s":"p","mi":0.08,"dy":172},{"s":"p","mi":0.24,"dy":173},{"s":"p","mi":0.08,"dy":174},{"s":"p","mi":0.24,"dy":175},{"s":"p","mi":0.08,"dy":176},{"s":"p","mi":0.24,"dy":177},{"s":"p","mi":0.08,"dy":178},{"s":"p","mi":0.24,"dy":179},{"s":"p","mi":0.08,"dy":180},{"s":"p","mi":0.24,"dy":181},{"s":"p","mi":0.08,"dy":182},{"s":"p","mi":0.24,"dy":183},{"s":"p","mi":0.08,"dy":184},{"s":"p","mi":0.24,"dy":185},{"s":"p","mi":0.08,"dy":186},{"s":"p","mi":0.24,"dy":187},{"s":"p","mi":0.08,"dy":188},{"s":"p","mi":0.24,"dy":189},{"s":"p","mi":0.08,"dy":190},{"s":"p","mi":0.24,"dy":191},{"s":"p","mi":0.08,"dy":192},{"s":"p","mi":0.24,"dy":193},{"s":"p","mi":0.08,"dy":194},{"s":"p","mi":0.24,"dy":195},{"s":"p","mi":0.08,"dy":196},{"s":"p","mi":0.24,"dy":197},{"s":"p","mi":0.08,"dy":198},{"s":"p","mi":0.24,"dy":199},{"s":"p","mi":0.08,"dy":200},{"s":"p","mi":0.24,"dy":201},{"s":"p","mi":0.08,"dy":202},{"s":"p","mi":0.24,"dy":203},{"s":"p","mi":0.08,"dy":204},{"s":"p","mi":0.24,"dy":205},{"s":"p","mi":0.08,"dy":206},{"s":"p","mi":0.24,"dy":207},{"s":"p","mi":0.08,"dy":208},{"s":"p","mi":0.24,"dy":209},{"s":"p","mi":0.08,"dy":210},{"s":"p","mi":0.24,"dy":211},{"s":"p","mi":0.08,"dy":212},{"s":"p","mi":0.24,"dy":213},{"s":"p","mi":0.08,"dy":214},{"s":"p","mi":0.24,"dy":215},{"s":"p","mi":0.08,"dy":216},{"s":"p","mi":0.24,"dy":217},{"s":"p","mi":0.08,"dy":218},{"s":"p","mi":0.24,"dy":219},{"s":"p","mi":0.08,"dy":220},{"s":"p","mi":0.24,"dy":221},{"s":"p","mi":0.08,"dy":222},
{"s":"p2","mi":0.08,"dy":223},{"s":"p2","mi":0.26,"dy":224},{"s":"p2","mi":0.08,"dy":225},{"s":"p2","mi":0.26,"dy":226},{"s":"p2","mi":0.08,"dy":227},{"s":"p2","mi":0.26,"dy":228},{"s":"p2","mi":0.08,"dy":229},{"s":"p2","mi":0.26,"dy":230},{"s":"p2","mi":0.08,"dy":231},{"s":"p2","mi":0.26,"dy":232},{"s":"p2","mi":0.08,"dy":233},{"s":"p2","mi":0.26,"dy":234},{"s":"p2","mi":0.08,"dy":235},{"s":"p2","mi":0.26,"dy":236},{"s":"p2","mi":0.08,"dy":237},{"s":"p2","mi":0.26,"dy":238},{"s":"p2","mi":0.08,"dy":239},{"s":"p2","mi":0.26,"dy":240},{"s":"p2","mi":0.08,"dy":241},{"s":"p2","mi":0.26,"dy":242},{"s":"p2","mi":0.08,"dy":243},{"s":"p2","mi":0.26,"dy":244},{"s":"p2","mi":0.08,"dy":245},{"s":"p2","mi":0.26,"dy":246},{"s":"p2","mi":0.08,"dy":247},{"s":"p2","mi":0.26,"dy":248},{"s":"p2","mi":0.08,"dy":249},{"s":"p2","mi":0.26,"dy":250},{"s":"p2","mi":0.08,"dy":251},{"s":"p2","mi":0.26,"dy":252},{"s":"p2","mi":0.08,"dy":253},{"s":"p2","mi":0.26,"dy":254},{"s":"p2","mi":0.08,"dy":255},{"s":"p2","mi":0.26,"dy":256},{"s":"p2","mi":0.08,"dy":257},{"s":"p2","mi":0.26,"dy":258},{"s":"p2","mi":0.08,"dy":259},{"s":"p2","mi":0.26,"dy":260},{"s":"p2","mi":0.08,"dy":261},{"s":"p2","mi":0.26,"dy":262},{"s":"p2","mi":0.08,"dy":263},{"s":"p2","mi":0.26,"dy":264},{"s":"p2","mi":0.08,"dy":265},{"s":"p2","mi":0.26,"dy":266},{"s":"p2","mi":0.08,"dy":267},{"s":"p2","mi":0.26,"dy":268},{"s":"p2","mi":0.08,"dy":269},{"s":"p2","mi":0.26,"dy":270},{"s":"p2","mi":0.08,"dy":271},{"s":"p2","mi":0.26,"dy":272},{"s":"p2","mi":0.08,"dy":273},{"s":"p2","mi":0.26,"dy":274},{"s":"p2","mi":0.08,"dy":275},{"s":"p2","mi":0.26,"dy":276},{"s":"p2","mi":0.08,"dy":277},{"s":"p2","mi":0.26,"dy":278},{"s":"p2","mi":0.08,"dy":279},{"s":"p2","mi":0.26,"dy":280},{"s":"p2","mi":0.08,"dy":281},{"s":"p2","mi":0.26,"dy":282},{"s":"p2","mi":0.08,"dy":283},{"s":"p2","mi":0.26,"dy":284},{"s":"p2","mi":0.08,"dy":285},{"s":"p2","mi":0.26,"dy":286},{"s":"p2","mi":0.08,"dy":287},{"s":"p2","mi":0.26,"dy":288},{"s":"p2","mi":0.08,"dy":289},{"s":"p2","mi":0.26,"dy":290},{"s":"p2","mi":0.08,"dy":291},{"s":"p2","mi":0.26,"dy":292},{"s":"p2","mi":0.08,"dy":293},
{"s":"q","mi":12.55,"dy":164.3},{"s":"q","mi":12.9,"dy":164.8},{"s":"q","mi":12.55,"dy":165.3},{"s":"q","mi":12.95,"dy":165.8},{"s":"q","mi":12.55,"dy":166.3},{"s":"q","mi":12.97,"dy":166.8},{"s":"q","mi":12.55,"dy":167.3},{"s":"q","mi":12.99,"dy":167.8},{"s":"q","mi":12.55,"dy":168.3},{"s":"q","mi":12.99,"dy":168.8},{"s":"q","mi":12.55,"dy":169.3},{"s":"q","mi":12.97,"dy":169.8},{"s":"q","mi":12.55,"dy":170.3},{"s":"q","mi":12.95,"dy":170.8},{"s":"q","mi":12.55,"dy":171.3},{"s":"q","mi":12.9,"dy":171.8},{"s":"q","mi":12.55,"dy":172.3},{"s":"q","mi":12.8,"dy":172.8},{"s":"q","mi":12.55,"dy":173.2}
]},
"hconcat":[
{
"width":1385,"height":977,
"view":{"stroke":"black","strokeWidth":2,"fill":"#FFFF00"},
"title":{"text":["Long Tom River","7-day Moving Average of the Daily Maximum Temperature Difference","Boundary Temperature Increase, Run 19 - Calibrated Model, Run 1"],"fontSize":27,"fontWeight":"normal","font":"Liberation Sans","lineHeight":31,"anchor":"middle","frame":"group","dx":27,"offset":-22,"baseline":"bottom","color":"black"},
"layer":[
{
"data":{"name":"pts"},
"transform":[{"filter":"indexof(['e','o1','o2','p','p2','q'], datum.s) < 0"},{"lookup":"s","from":{"data":{"name":"shapes"},"key":"s","fields":["b"]}}],
"mark":{"type":"line","stroke":"black","strokeWidth":1.8,"clip":true,"strokeJoin":"round"},
"encoding":{
"x":{"field":"mi","type":"quantitative","scale":{"domain":[0.08,23.57],"reverse":true,"nice":false,"zero":false},"axis":{"orient":"bottom","values":[1,2,3,4,5,6,7,8,9,10,11,12,13,14,15,16,17,18,19,20,21,22,23],"labelExpr":"datum.value % 2 === 0 ? datum.label : ''","tickSize":8,"labelPadding":11,"labelFontSize":20,"title":"River Mile","titleFontSize":27,"titleFontWeight":"bold","titlePadding":16}},
"y":{"field":"dy","type":"quantitative","scale":{"domain":[155,300],"reverse":true,"nice":false,"zero":false},"axis":{"orient":"left","values":[160,165,170,175,180,185,190,195,200,205,210,215,220,225,230,235,240,245,250,255,260,265,270,275,280,285,290,295,300],"labelExpr":"datum.value % 10 === 0 ? datum.label : ''","tickSize":{"condition":{"test":"datum.value % 10 === 0","value":15},"value":7},"labelPadding":3,"labelFontSize":20,"title":"Julian Day","titleFontSize":27,"titleFontWeight":"bold","titlePadding":14}},
"detail":{"field":"s","type":"nominal"},
"fill":{"field":"b","type":"nominal","scale":{"domain":[">5","4-5","3-4","2-3","1-2","0.3-1","0.14-0.3","0.035-0.14","0-0.035","-1-0","-2--1","-3--2","-4--3","-5--4"],"range":["#CC3300","#FF0000","#FF6600","#FF9933","#FFCC00","#FFFF00","#009933","#99FF99","#CCFFCC","#CCCCFF","#9999FF","#6699FF","#6666FF","#0000FF"]},"legend":null},
"order":{"value":null}
}
},
{
"data":{"name":"pts"},
"transform":[{"filter":"indexof(['e','o1','o2','p','p2','q'], datum.s) >= 0"},{"lookup":"s","from":{"data":{"name":"shapes"},"key":"s","fields":["b"]}}],
"mark":{"type":"line","stroke":"black","strokeWidth":2.4,"clip":true,"strokeJoin":"miter"},
"encoding":{
"x":{"field":"mi","type":"quantitative","scale":{"domain":[0.08,23.57],"reverse":true,"nice":false,"zero":false},"axis":null},
"y":{"field":"dy","type":"quantitative","scale":{"domain":[155,300],"reverse":true,"nice":false,"zero":false},"axis":null},
"detail":{"field":"s","type":"nominal"},
"fill":{"field":"b","type":"nominal","scale":{"domain":[">5","4-5","3-4","2-3","1-2","0.3-1","0.14-0.3","0.035-0.14","0-0.035","-1-0","-2--1","-3--2","-4--3","-5--4"],"range":["#CC3300","#FF0000","#FF6600","#FF9933","#FFCC00","#FFFF00","#009933","#99FF99","#CCFFCC","#CCCCFF","#9999FF","#6699FF","#6666FF","#0000FF"]},"legend":null},
"order":{"value":null}
}
},
{
"data":{"name":"pts"},
"mark":{"type":"point","opacity":0},
"encoding":{
"x":{"field":"mi","type":"quantitative","scale":{"domain":[0.08,23.57],"reverse":true,"nice":false,"zero":false},"axis":{"orient":"top","values":[2,4,6,8,10,12,14,16,18,20,22],"labels":false,"tickSize":10,"title":null}},
"y":{"field":"dy","type":"quantitative","scale":{"domain":[155,300],"reverse":true,"nice":false,"zero":false},"axis":{"orient":"right","values":[160,170,180,190,200,210,220,230,240,250,260,270,280,290,300],"labels":false,"tickSize":10,"title":null}}
}
}
],
"resolve":{"axis":{"x":"independent","y":"independent"}}
},
{
"width":43,"height":977,
"data":{"name":"legend"},
"view":{"stroke":null},
"title":{"text":["Temperature","Difference, C"],"fontSize":22,"fontWeight":"normal","font":"Liberation Sans","lineHeight":24,"anchor":"middle","frame":"group","dx":32,"offset":-172,"baseline":"bottom","color":"black"},
"mark":{"type":"rect","stroke":"black","strokeWidth":2},
"encoding":{
"y":{"field":"i","type":"quantitative","scale":{"domain":[-3.51,17.51],"reverse":true,"nice":false,"zero":false},"axis":{"orient":"right","values":[1,2,3,4,5,6,7,8,9,10,11,12,13,14],"labelExpr":"['','5','4','3','2','1','0.3','0.14','0.035','0','-1','-2','-3','-4','-5'][datum.value]","ticks":false,"labelPadding":8,"labelFontSize":22,"title":null}},
"y2":{"field":"j"},
"fill":{"field":"b","type":"nominal","scale":{"domain":[">5","4-5","3-4","2-3","1-2","0.3-1","0.14-0.3","0.035-0.14","0-0.035","-1-0","-2--1","-3--2","-4--3","-5--4"],"range":["#CC3300","#FF0000","#FF6600","#FF9933","#FFCC00","#FFFF00","#009933","#99FF99","#CCFFCC","#CCCCFF","#9999FF","#6699FF","#6666FF","#0000FF"]},"legend":null}
}
}
],
"spacing":81,
"bounds":"flush"
}
